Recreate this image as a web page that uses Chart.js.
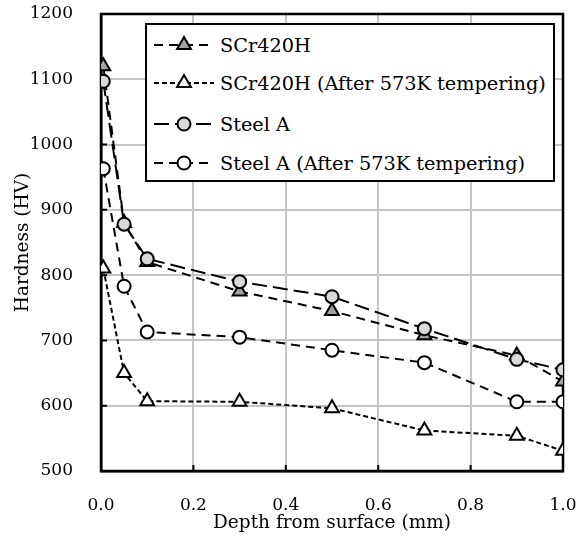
<!DOCTYPE html>
<html>
<head>
<meta charset="utf-8">
<title>Hardness profile</title>
<script src="https://cdn.jsdelivr.net/npm/chart.js"></script>
<style>
  body { margin: 0; background: #fff; font-family: 'DejaVu Serif', serif; }
  #wrap { position: relative; width: 582px; height: 538px; }
  #legend { position: absolute; left: 145px; top: 23px; width: 406px; height: 155px; border: 2px solid #000; background: #fff; }
  .row { position: absolute; left: 0; height: 30px; display: flex; align-items: center; font-size: 19.3px; color: #000; white-space: nowrap; }
  .row svg { margin-left: 7px; margin-right: 6px; }
</style>
</head>
<body>
<div id="wrap">
  <canvas id="chart" width="582" height="538"></canvas>
  <div id="legend"></div>
</div>
<script>
// depth from surface (mm)
const depths = [0.005, 0.05, 0.1, 0.3, 0.5, 0.7, 0.9, 1.0];
// hardness (HV)
const scr420h = [1120, 880, 820, 775, 745, 708, 677, 637];
const scr420hTempered = [810, 650, 607, 606, 596, 562, 554, 531];
const steelA = [1097, 878, 825, 790, 767, 718, 671, 655];
const steelATempered = [963, 783, 713, 705, 685, 666, 606, 606];

const seriesNames = ['SCr420H', 'SCr420H (After 573K tempering)', 'Steel A', 'Steel A (After 573K tempering)'];
const xTicks = [0, 0.2, 0.4, 0.6, 0.8, 1.0];
const yTicks = [500, 600, 700, 800, 900, 1000, 1100, 1200];

const styles = [
  { dash: [9, 6], marker: 'triangle', fill: '#a3a3a3', order: 2 },
  { dash: [5, 3], marker: 'triangle', fill: '#ffffff', order: 3 },
  { dash: [15, 6], marker: 'circle', fill: '#d9d9d9', order: 0 },
  { dash: [9, 6], marker: 'circle', fill: '#ffffff', order: 1 }
];
const values = [scr420h, scr420hTempered, steelA, steelATempered];

const datasets = values.map((vals, i) => ({
  label: seriesNames[i],
  data: depths.map((d, j) => ({ x: d, y: vals[j] })),
  borderColor: '#000',
  borderWidth: 2,
  borderDash: styles[i].dash,
  pointStyle: styles[i].marker,
  pointRadius: styles[i].marker === 'triangle' ? 8 : 6.5,
  pointBackgroundColor: styles[i].fill,
  pointBorderColor: '#000',
  pointBorderWidth: 2,
  tension: 0,
  order: styles[i].order
}));

// black frame round the plot and small inward ticks
const framePlugin = {
  id: 'frame',
  beforeDatasetsDraw(chart) {
    const { ctx, chartArea: a, scales: { x, y } } = chart;
    ctx.save();
    ctx.strokeStyle = '#000';
    ctx.lineWidth = 2.5;
    ctx.strokeRect(a.left, a.top, a.right - a.left, a.bottom - a.top);
    ctx.lineWidth = 2;
    ctx.beginPath();
    x.ticks.forEach(t => {
      const px = x.getPixelForValue(t.value);
      ctx.moveTo(px, a.bottom); ctx.lineTo(px, a.bottom - 6);
    });
    y.ticks.forEach(t => {
      const py = y.getPixelForValue(t.value);
      ctx.moveTo(a.left, py); ctx.lineTo(a.left + 6, py);
    });
    ctx.stroke();
    ctx.restore();
  }
};

const font = { family: 'DejaVu Serif', size: 17 };
const titleFont = { family: 'DejaVu Serif', size: 18.5, lineHeight: 1 };

new Chart(document.getElementById('chart'), {
  type: 'line',
  data: { datasets },
  options: {
    responsive: false,
    animation: false,
    layout: { padding: { left: 0, right: 19, top: 14, bottom: 0 } },
    plugins: { legend: { display: false }, tooltip: { enabled: false } },
    scales: {
      x: {
        type: 'linear',
        min: 0, max: 1,
        afterFit: s => { s.height = 67; },
        afterBuildTicks: s => { s.ticks = xTicks.map(v => ({ value: v })); },
        ticks: { color: '#000', font, padding: 0, maxRotation: 0, callback: v => v.toFixed(1) },
        grid: { color: '#c4c4c4', lineWidth: 2, drawTicks: true, tickLength: 24, tickColor: 'rgba(0,0,0,0)' },
        border: { color: '#000', width: 2.5 },
        title: { display: true, text: 'Depth from surface (mm)', color: '#000', font: titleFont, padding: { top: 0, bottom: 6 } }
      },
      y: {
        min: 500, max: 1200,
        afterFit: s => { s.width = 101; },
        afterBuildTicks: s => { s.ticks = yTicks.map(v => ({ value: v })); },
        ticks: { color: '#000', font, padding: 0, callback: v => String(v) },
        grid: { color: '#c4c4c4', lineWidth: 2, drawTicks: true, tickLength: 28, tickColor: 'rgba(0,0,0,0)' },
        border: { color: '#000', width: 2.5 },
        title: { display: true, text: 'Hardness (HV)', color: '#000', font: titleFont, padding: { top: 14, bottom: 0 } }
      }
    }
  },
  plugins: [framePlugin]
});

// legend built from the same series settings
const legend = document.getElementById('legend');
const rowCentres = [20, 58, 99, 138];
seriesNames.forEach((name, i) => {
  const st = styles[i];
  const row = document.createElement('div');
  row.className = 'row';
  row.style.top = (rowCentres[i] - 15) + 'px';
  const marker = st.marker === 'triangle'
    ? `<polygon points="30,2 36.9,14 23.1,14" fill="${st.fill}" stroke="#000" stroke-width="2"/>`
    : `<circle cx="30" cy="10" r="6.5" fill="${st.fill}" stroke="#000" stroke-width="2"/>`;
  row.innerHTML = `<svg width="60" height="20"><line x1="0" y1="10" x2="60" y2="10" stroke="#000" stroke-width="2" stroke-dasharray="${st.dash.join(' ')}"/>${marker}</svg><span>${name}</span>`;
  legend.appendChild(row);
});
</script>
</body>
</html>
